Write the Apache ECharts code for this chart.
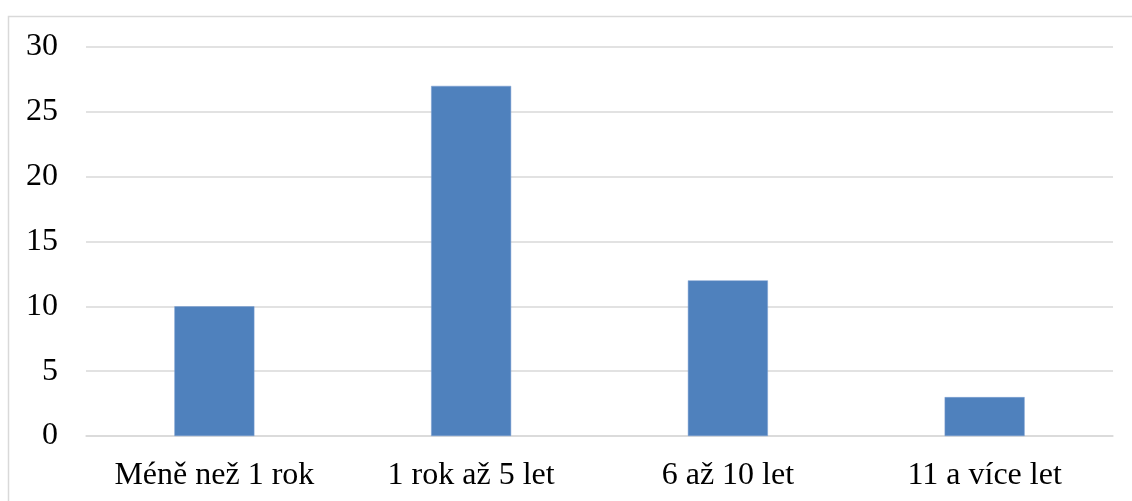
<!DOCTYPE html>
<html>
<head>
<meta charset="utf-8">
<script src="https://cdn.jsdelivr.net/npm/echarts@6/dist/echarts.min.js"></script>
<style>
html,body{margin:0;padding:0;background:#fff;}
#c{width:1132px;height:501px;}
</style>
</head>
<body>
<div id="c"></div>
<script>
const categories = ['Méně než 1 rok', '1 rok až 5 let', '6 až 10 let', '11 a více let'];
const values = [10, 27, 12, 3];

const chart = echarts.init(document.getElementById('c'), null, {renderer: 'canvas'});
chart.setOption({
  animation: false,
  backgroundColor: '#ffffff',
  graphic: [{
    type: 'rect',
    shape: {x: 8.5, y: 16.5, width: 1200, height: 600},
    style: {fill: 'none', stroke: '#d9d9d9', lineWidth: 1.5},
    silent: true
  }],
  grid: {left: 86, right: 19, top: 47, bottom: 65},
  xAxis: {
    type: 'category',
    data: categories,
    axisLine: {show: true, lineStyle: {color: '#d9d9d9', width: 1.5}},
    axisTick: {show: false},
    axisLabel: {
      interval: 0,
      color: '#000',
      fontFamily: 'Liberation Serif',
      fontSize: 32,
      margin: 24
    }
  },
  yAxis: {
    type: 'value',
    min: 0,
    max: 30,
    interval: 5,
    axisLine: {show: false},
    axisTick: {show: false},
    splitLine: {lineStyle: {color: '#d9d9d9', width: 1.5}},
    axisLabel: {
      color: '#000',
      fontFamily: 'Liberation Serif',
      fontSize: 32,
      margin: 28
    }
  },
  series: [{
    type: 'bar',
    data: values,
    barWidth: 80,
    itemStyle: {color: '#4f81bd', borderColor: '#7a9fd0', borderWidth: 0.5}
  }]
});
</script>
</body>
</html>
